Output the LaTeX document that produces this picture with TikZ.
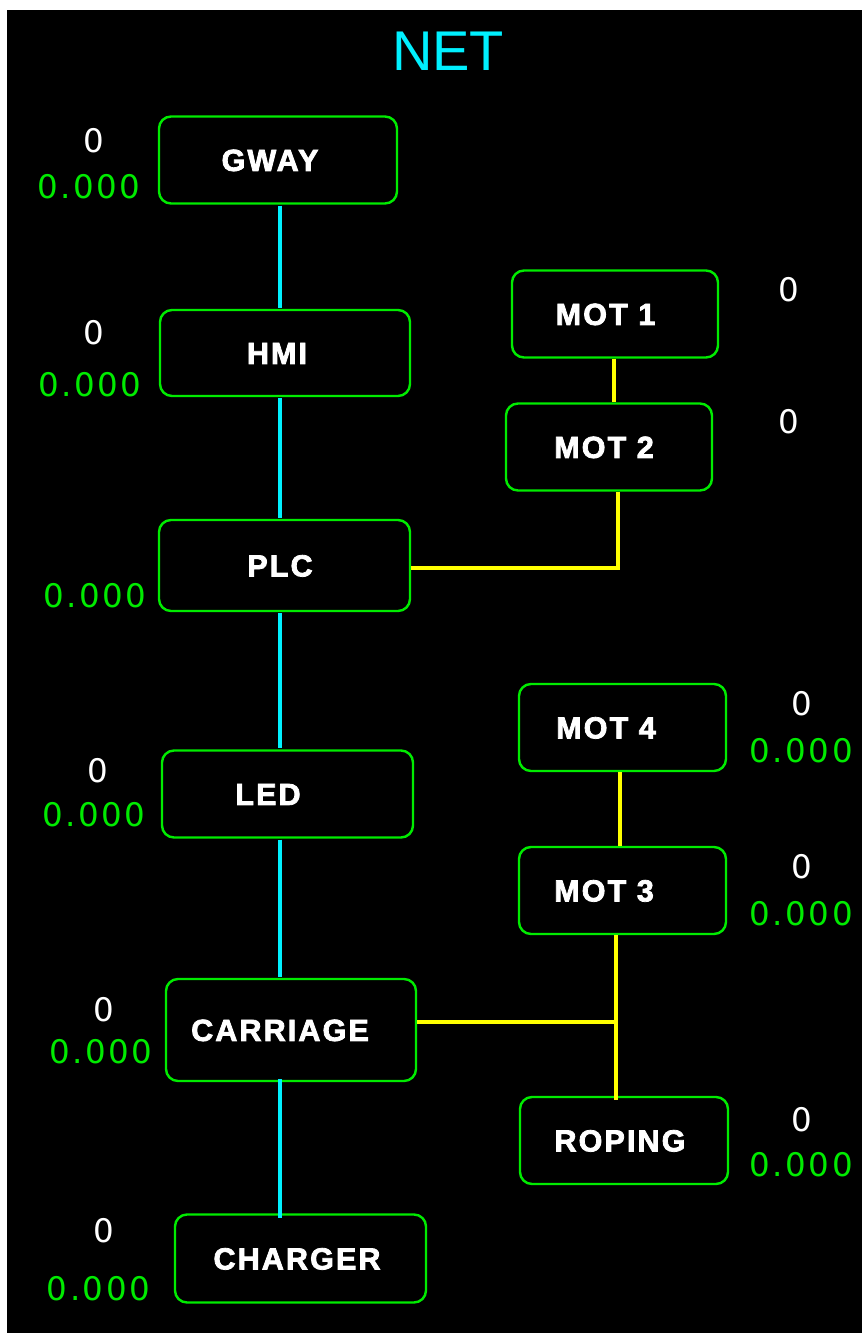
\documentclass[tikz,border=0pt]{standalone}
\usepackage{fontspec}
\setmainfont{Liberation Sans}
\newfontfamily\boxfont{Liberation Sans}[LetterSpace=7, BoldFeatures={FakeBold=2.6}]
\newfontfamily\numfont{DejaVu Sans}[LetterSpace=8]
\newfontfamily\titlefont{Liberation Sans}
\definecolor{netcyan}{RGB}{0,240,255}
\definecolor{boxgreen}{RGB}{0,235,0}
\definecolor{numgreen}{RGB}{0,235,0}
\definecolor{lineyellow}{RGB}{255,255,0}
\begin{document}
\begin{tikzpicture}[x=1pt,y=-1pt,
  devbox/.style={draw=boxgreen, line width=2.4pt, rounded corners=12pt, fill=black,
    text=white, font=\boxfont\bfseries\fontsize{30.5pt}{30.5pt}\selectfont,
    text height=21.8pt, text depth=0pt, inner sep=0pt, anchor=center},
  numlbl/.style={font=\numfont\fontsize{32.5pt}{32.5pt}\selectfont, text height=23.7pt,
    text depth=0pt, inner sep=0pt, anchor=center},
  cnt/.style={numlbl, text=white},
  val/.style={numlbl, text=numgreen},
  bus/.style={draw=netcyan, line width=4.8pt},
  link/.style={draw=lineyellow, line width=4.8pt}]
% page and background
\useasboundingbox (0,0) rectangle (862,1333);
\fill[white] (0,0) rectangle (862,1333);
\fill[black] (7,10) rectangle (862,1333);
% title
\node[font=\titlefont\fontsize{56pt}{56pt}\selectfont, text=netcyan, text height=40pt,
  text depth=0pt, inner sep=0pt] (title) at (448,50) {NET};
% left column
\node[devbox, minimum width=238pt, minimum height=87pt] (gway) at (278,160) {\hspace*{-16pt}GWAY};
\node[devbox, minimum width=250pt, minimum height=86pt] (hmi) at (285,353) {\hspace*{-16pt}HMI};
\node[devbox, minimum width=251pt, minimum height=91pt] (plc) at (284.5,565.5) {\hspace*{-9pt}PLC};
\node[devbox, minimum width=251pt, minimum height=87pt] (led) at (287.5,794) {\hspace*{-39pt}LED};
\node[devbox, minimum width=250pt, minimum height=102pt] (carriage) at (291,1030) {\hspace*{-22pt}CARRIAGE};
\node[devbox, minimum width=251pt, minimum height=88pt] (charger) at (300.5,1258.5) {\hspace*{-7pt}CHARGER};
% right column
\node[devbox, minimum width=206pt, minimum height=87pt] (mot1) at (615,314) {\hspace*{-19pt}MOT 1};
\node[devbox, minimum width=206pt, minimum height=87pt] (mot2) at (609,447) {\hspace*{-10pt}MOT 2};
\node[devbox, minimum width=207pt, minimum height=87pt] (mot4) at (622.5,727.5) {\hspace*{-33pt}MOT 4};
\node[devbox, minimum width=207pt, minimum height=87pt] (mot3) at (622.5,890.5) {\hspace*{-37pt}MOT 3};
\node[devbox, minimum width=208pt, minimum height=87pt] (roping) at (624,1140.5) {\hspace*{-8pt}ROPING};
% counters and values
\node[cnt] (gwayc) at (94,141) {0};
\node[val] (gwayv) at (89,186.5) {0.000};
\node[cnt] (hmic) at (94,333) {0};
\node[val] (hmiv) at (90,385) {0.000};
\node[val] (plcv) at (95,596) {0.000};
\node[cnt] (ledc) at (97.5,771) {0};
\node[val] (ledv) at (94,814.5) {0.000};
\node[cnt] (carc) at (104,1010) {0};
\node[val] (carv) at (101,1052) {0.000};
\node[cnt] (chgc) at (104,1231) {0};
\node[val] (chgv) at (98.5,1289) {0.000};
\node[cnt] (mot1c) at (789,289.5) {0};
\node[cnt] (mot2c) at (789,422) {0};
\node[cnt] (mot4c) at (802,704) {0};
\node[val] (mot4v) at (801,751) {0.000};
\node[cnt] (mot3c) at (802,867) {0};
\node[val] (mot3v) at (801,914) {0.000};
\node[cnt] (ropc) at (802,1120) {0};
\node[val] (ropv) at (801,1164.5) {0.000};
% connector coordinates
\coordinate (spine) at (280,0);
\coordinate (m12) at (614,0);
\coordinate (m2p) at (618,568);
\coordinate (m43) at (620,0);
\coordinate (m3r) at (616,1022);
% cyan bus
\draw[bus] ([yshift=-1pt]gway.south -| spine) -- ([yshift=1pt]hmi.north -| spine);
\draw[bus] ([yshift=-1pt]hmi.south -| spine) -- ([yshift=1pt]plc.north -| spine);
\draw[bus] ([yshift=-1pt]plc.south -| spine) -- ([yshift=1pt]led.north -| spine);
\draw[bus] ([yshift=-1pt]led.south -| spine) -- ([yshift=1pt]carriage.north -| spine);
\draw[bus] ([yshift=3pt]carriage.south -| spine) -- ([yshift=-5pt]charger.north -| spine);
% yellow links
\draw[link] (mot1.south -| m12) -- (mot2.north -| m12);
\draw[link] (mot2.south -| m2p) -- (m2p) -- (plc.east |- m2p);
\draw[link] (mot4.south -| m43) -- (mot3.north -| m43);
\draw[link] (mot3.south -| m3r) -- ([yshift=-4pt]roping.north -| m3r);
\draw[link] (carriage.east |- m3r) -- (m3r);
\end{tikzpicture}
\end{document}
